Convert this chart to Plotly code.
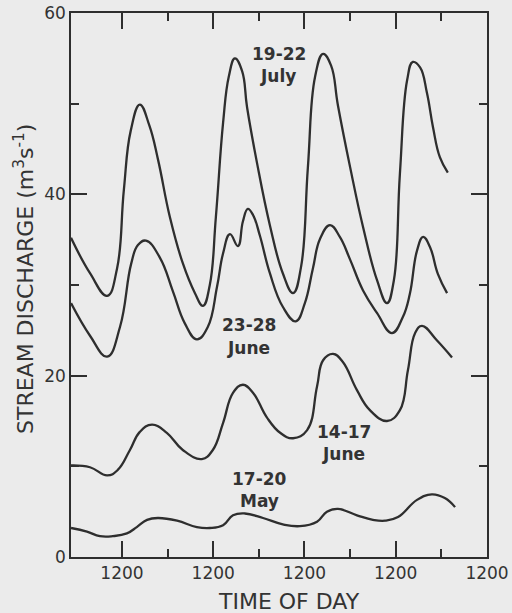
import plotly.graph_objects as go

# Time in hours (12 = first noon tick, 36 = second noon, ...); discharge in m3/s
jul_t = [-1.4, 3.6, 8.1, 10.7, 12.5, 14.3, 16.7, 19.2, 21.5, 24.6, 28.0, 31.2, 33.3, 35.1,
         36.7, 38.6, 40.1, 41.7, 43.6, 44.9, 47.5, 50.9, 54.3, 57.0, 59.1, 60.9, 62.8, 64.9,
         67.0, 68.8, 72.0, 75.4, 79.1, 81.7, 83.5, 85.1, 87.0, 88.5, 90.4, 92.2, 93.8, 95.6, 97.7]
jul_q = [35.2, 31.3, 28.8, 31.8, 40.5, 47.0, 49.9, 47.6, 43.8, 37.5, 32.4, 29.1, 27.7, 30.0,
         37.5, 47.9, 53.0, 55.0, 53.6, 49.6, 43.5, 36.6, 31.3, 29.1, 32.0, 43.0, 53.0, 55.5,
         54.2, 49.8, 43.0, 36.4, 30.5, 28.0, 30.5, 42.3, 52.6, 54.6, 54.0, 51.2, 47.4, 44.1, 42.4]

jun2_t = [-1.4, 3.6, 8.1, 11.5, 14.4, 16.2, 18.3, 22.0, 25.4, 28.5, 31.7, 34.6, 37.0, 38.6,
          40.4, 42.5, 43.8, 45.1, 46.5, 48.3, 50.9, 54.3, 57.7, 60.1, 62.2, 64.1, 66.7, 69.3,
          72.0, 75.4, 79.1, 83.0, 85.9, 87.7, 89.6, 91.2, 93.0, 95.1, 97.5]
jun2_q = [28.0, 24.4, 22.1, 25.4, 32.3, 34.4, 34.9, 33.0, 29.3, 25.8, 24.0, 25.4, 29.8, 33.5,
          35.6, 34.3, 37.0, 38.4, 37.7, 35.4, 31.3, 27.6, 26.0, 28.0, 31.8, 35.1, 36.6, 35.3,
          32.8, 29.4, 26.9, 24.7, 26.5, 29.0, 33.8, 35.3, 34.2, 31.2, 29.1]

jun1_t = [-1.4, 3.6, 8.1, 10.9, 14.1, 16.7, 19.9, 23.8, 28.0, 33.0, 35.9, 38.6, 41.2, 43.8,
          46.5, 50.1, 53.6, 57.0, 60.7, 63.3, 64.9, 67.5, 70.1, 73.8, 77.2, 81.7, 85.1, 87.2,
          89.1, 90.9, 94.8, 98.8]
jun1_q = [10.1, 9.9, 9.0, 9.6, 11.8, 13.8, 14.6, 13.7, 11.8, 10.8, 11.8, 14.8, 18.1, 19.0,
          18.1, 15.4, 13.7, 13.1, 14.0, 18.8, 21.7, 22.4, 21.5, 18.4, 16.2, 15.0, 16.2, 20.6,
          24.7, 25.5, 23.9, 22.0]

may_t = [-1.4, 2.8, 6.2, 9.6, 13.3, 15.9, 18.6, 21.5, 26.5, 31.7, 35.1, 38.6, 41.2, 44.3,
         49.1, 54.3, 58.8, 63.3, 65.9, 68.8, 73.8, 78.0, 81.2, 84.6, 89.6, 93.5, 96.9, 99.6]
may_q = [3.2, 2.8, 2.3, 2.3, 2.6, 3.3, 4.1, 4.3, 4.0, 3.3, 3.2, 3.5, 4.6, 4.8,
         4.3, 3.6, 3.4, 3.9, 5.0, 5.3, 4.6, 4.1, 4.0, 4.4, 6.3, 6.9, 6.5, 5.5]

# curve labels: one entry per text line
label_text = ["19-22", "July", "23-28", "June", "14-17", "June", "17-20", "May"]
label_t = [53.4, 53.0, 45.3, 45.3, 70.4, 70.3, 48.3, 48.2]
label_q = [55.5, 53.0, 25.6, 23.1, 13.8, 11.4, 8.6, 6.2]

major_ticks = [12, 36, 60, 84, 108]
major_text = ["1200", "1200", "1200", "1200", "1200"]
minor_ticks = [24, 48, 72, 96]
y_major = [0, 20, 40, 60]
y_minor = [10, 30, 50]

ink = "#2e2e2e"
txt_col = "#333333"
paper = "#ebebeb"
fam = "DejaVu Sans, Verdana, sans-serif"

fig = go.Figure()
for t, q in [(jul_t, jul_q), (jun2_t, jun2_q), (jun1_t, jun1_q), (may_t, may_q)]:
    fig.add_trace(go.Scatter(x=t, y=q, mode="lines",
                             line=dict(color=ink, width=2.3, shape="spline", smoothing=1.25),
                             showlegend=False, hoverinfo="skip"))

for txt, xt, yq in zip(label_text, label_t, label_q):
    fig.add_annotation(x=xt, y=yq, xref="x", yref="y", text=txt, showarrow=False,
                       font=dict(family=fam, size=17, color=txt_col, weight="bold"),
                       xanchor="center", yanchor="middle")

fig.add_annotation(x=-0.113, y=0.511, xref="paper", yref="paper",
                   text="STREAM DISCHARGE (m<sup>3</sup>s<sup>-1</sup>)", textangle=-90,
                   showarrow=False, font=dict(family=fam, size=22, color=txt_col),
                   xanchor="center", yanchor="middle")
fig.add_annotation(x=0.524, y=-0.081, xref="paper", yref="paper", text="TIME OF DAY",
                   showarrow=False, font=dict(family=fam, size=22, color=txt_col),
                   xanchor="center", yanchor="middle")

fig.update_xaxes(range=[-1.4, 108], tickmode="array", tickvals=major_ticks, ticktext=major_text,
                 ticks="inside", ticklen=16, tickwidth=1.5, tickcolor=ink,
                 minor=dict(tickmode="array", tickvals=minor_ticks, ticks="inside", ticklen=8,
                            tickwidth=1.5, tickcolor=ink),
                 showline=True, linecolor=ink, linewidth=1.5, mirror="ticks",
                 showgrid=False, zeroline=False,
                 tickfont=dict(family=fam, size=17, color=txt_col),
                 automargin=False)
fig.update_yaxes(range=[0, 60], tickmode="array", tickvals=y_major,
                 ticks="inside", ticklen=16, tickwidth=1.5, tickcolor=ink,
                 minor=dict(tickmode="array", tickvals=y_minor, ticks="inside", ticklen=8,
                            tickwidth=1.5, tickcolor=ink),
                 showline=True, linecolor=ink, linewidth=1.5, mirror="ticks",
                 showgrid=False, zeroline=False,
                 tickfont=dict(family=fam, size=17, color=txt_col),
                 automargin=False)

fig.update_layout(width=512, height=613, margin=dict(l=71, r=25, t=13, b=56),
                  paper_bgcolor=paper, plot_bgcolor=paper)

fig.write_html("out.html")
